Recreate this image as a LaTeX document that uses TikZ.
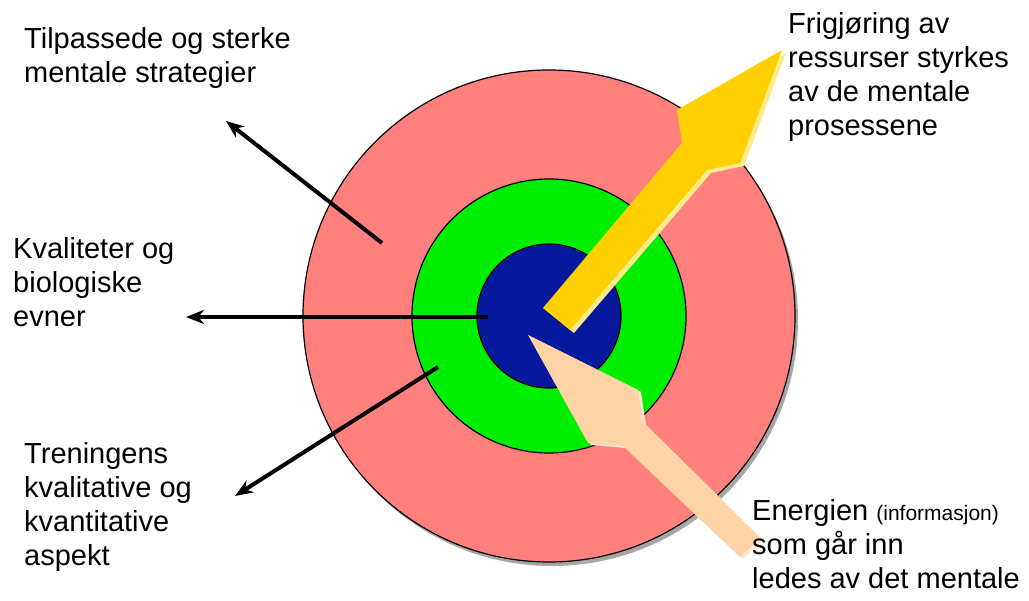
\documentclass[tikz,border=0pt]{standalone}
\usepackage{fontspec}
\setmainfont{Liberation Sans}
\usetikzlibrary{arrows.meta}
\definecolor{ringpink}{RGB}{255,128,124}
\definecolor{ringgreen}{RGB}{0,238,0}
\definecolor{ringblue}{RGB}{6,24,156}
\definecolor{goldarrow}{RGB}{255,208,0}
\definecolor{goldlight}{RGB}{255,234,140}
\definecolor{peacharrow}{RGB}{255,211,165}
\definecolor{peachlight}{RGB}{255,232,210}
\tikzset{
  lbl/.style={anchor=north west, inner sep=0pt, align=left,
    font=\fontsize{29}{34}\selectfont},
  ring/.style={draw=black, line width=1.2pt},
  blackarrow/.style={line width=4pt, -{Stealth[length=18pt,width=14pt]}},
}
\begin{document}
\begin{tikzpicture}[x=1pt,y=-1pt]
\useasboundingbox (0,0) rectangle (1029,601);
% rings
\fill[gray!70] (552,320) circle (246);
\fill[ring, fill=ringpink] (549,316) circle (246);
\fill[ring, fill=ringgreen] (549,316) circle (137);
\fill[ring, fill=ringblue] (549,316) circle (72);
% connector end points
\coordinate (s1) at (382,243);
\coordinate (e1) at (226,121);
\coordinate (s2) at (488,317);
\coordinate (e2) at (186,317);
\coordinate (s3) at (438,367);
\coordinate (e3) at (235,496);
\draw[blackarrow] (s1) -- (e1);
\draw[blackarrow] (s2) -- (e2);
\draw[blackarrow] (s3) -- (e3);
% yellow arrow
\fill[goldlight] (547,311) -- (686,146) -- (681,113) -- (786,53) -- (744,166) -- (711,173) -- (574,333) -- cycle;
\fill[goldarrow] (543,308) -- (682,143) -- (677,110) -- (782,50) -- (740,163) -- (707,170) -- (570,330) -- cycle;
% peach arrow
\fill[peachlight] (531,337) -- (641,392) -- (646,425) -- (763,540) -- (743,559) -- (626,448) -- (591,445) -- cycle;
\fill[peacharrow] (528,335) -- (638,390) -- (643,423) -- (760,538) -- (740,557) -- (623,446) -- (588,443) -- cycle;
% labels
\node[lbl] (t1) at (24,27) {Tilpassede og sterke\\mentale strategier};
\node[lbl] (t2) at (13,237) {Kvaliteter og\\biologiske\\evner};
\node[lbl] (t3) at (24,442) {Treningens\\kvalitative og\\kvantitative\\aspekt};
\node[lbl] (t4) at (788,12) {Frigjøring av\\ressurser styrkes\\av de mentale\\prosessene};
\node[lbl] (t5) at (752,499) {Energien {\fontsize{21}{34}\selectfont(informasjon)}\\som går inn\\ledes av det mentale};
\end{tikzpicture}
\end{document}
